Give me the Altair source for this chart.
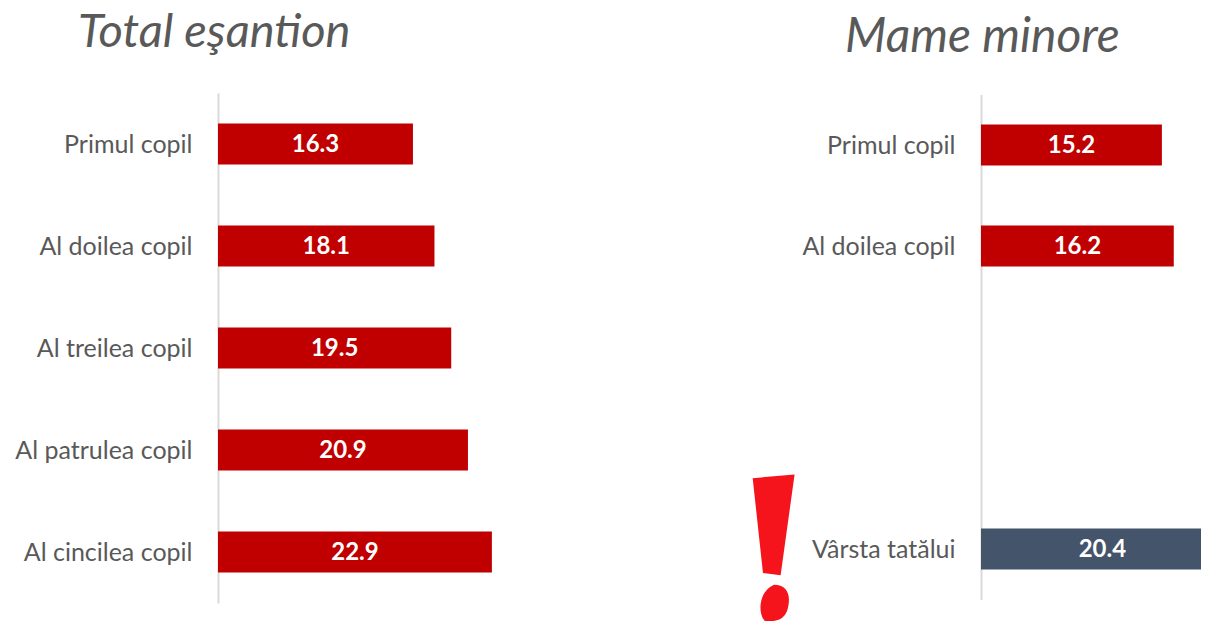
import altair as alt
import pandas as pd

left_categories = ["Primul copil", "Al doilea copil", "Al treilea copil", "Al patrulea copil", "Al cincilea copil"]
left_values = [16.3, 18.1, 19.5, 20.9, 22.9]
right_categories = ["Primul copil", "Al doilea copil", " ", "  ", "Vârsta tatălui"]
right_present = ["Primul copil", "Al doilea copil", "Vârsta tatălui"]
right_values = [15.2, 16.2, 20.4]
right_colors = ["#c00000", "#c00000", "#44546a"]

FONT = "Lato"
GREY = "#595959"
EXCLAMATION = ("M -0.29 -0.95 L 0.28 -1 L 0.09 0.37 L -0.15 0.34 Z "
               "M 0 0.5 C 0.15 0.5 0.22 0.6 0.2 0.75 C 0.18 0.95 0.08 1 -0.12 1 "
               "C -0.22 0.9 -0.22 0.6 0 0.5 Z")


def panel(cats, present, values, colors, title, title_size, title_dx, title_dy, width, xmax, yrange, extent):
    df = pd.DataFrame({"cat": present, "val": values})
    df["mid"] = df["val"] / 2
    y = alt.Y("cat:N", sort=cats,
              scale=alt.Scale(domain=cats, range=yrange, paddingInner=0.6, paddingOuter=0.3),
              axis=alt.Axis(title=None, ticks=False, grid=False, labelFont=FONT, labelFontSize=25,
                            labelColor=GREY, labelPadding=26, labelOffset=1, domainColor="#d9d9d9", domainWidth=2,
                            minExtent=extent, maxExtent=extent, labelLimit=300))
    x_scale = alt.Scale(domain=[0, xmax], nice=False, zero=True)
    bars = alt.Chart(df).mark_bar(clip=True, size=41).encode(
        x=alt.X("val:Q", scale=x_scale, axis=None),
        y=y,
        color=alt.Color("cat:N", scale=alt.Scale(domain=present, range=colors), legend=None),
    )
    text = alt.Chart(df).mark_text(font=FONT, fontSize=24, fontWeight="bold", color="white",
                                   baseline="middle", align="center", dy=1).encode(
        x=alt.X("mid:Q", scale=x_scale, axis=None),
        y=y,
        text=alt.Text("val:Q", format=".1f"),
    )
    return alt.layer(bars, text).properties(
        width=width, height=510,
        title=alt.TitleParams(text=title, font=FONT, fontSize=title_size, fontStyle="italic", fontWeight="normal",
                              color=GREY, anchor="start", frame="group", dx=title_dx, dy=title_dy, offset=37),
    )


left = panel(left_categories, left_categories, left_values, ["#c00000"] * 5,
             "Total eşantion", 47, -140, 1, 400, 400 / 11.96, [0, 510], 210)
right = panel(right_categories, right_present, right_values, right_colors,
              "Mame minore", 48, -136, 6, 220, 220 / 11.9, [1.5, 506.5], 235)

mark_df = pd.DataFrame({"label": ["!"]})
bang = alt.Chart(mark_df).mark_point(shape=EXCLAMATION, filled=True, opacity=1, size=21609,
                                     color="#f5141c", strokeWidth=0, clip=False).encode(
    x=alt.value(-207), y=alt.value(455))
right = alt.layer(right, bang)

chart = alt.hconcat(left, right, spacing=128).properties(
    padding={"left": 0, "top": 1, "right": 0, "bottom": 0}
).resolve_scale(y="independent", color="independent", x="independent").configure_view(stroke=None)

chart.save("out.html", embed_options={"renderer": "svg", "actions": False})
